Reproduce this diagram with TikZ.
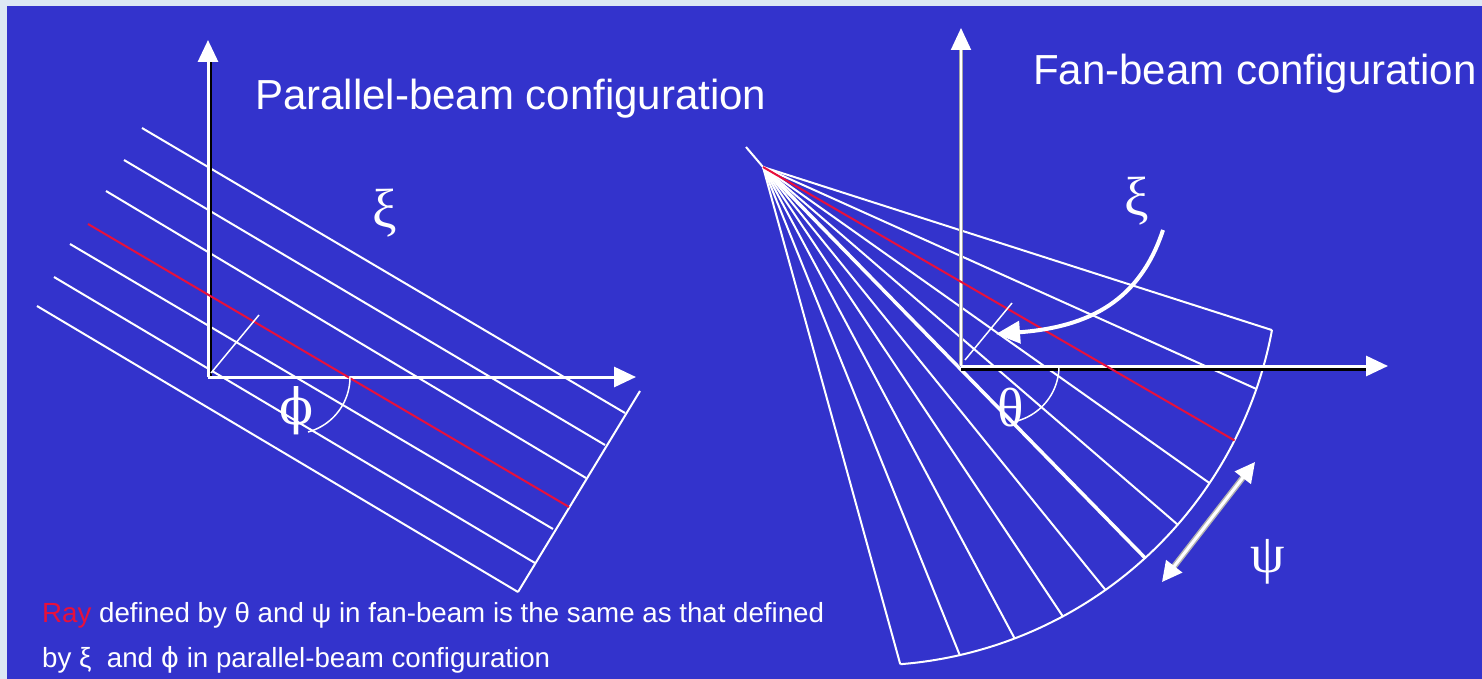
\documentclass[tikz,border=0pt]{standalone}
\usepackage{fontspec}
\setmainfont{Liberation Sans}
\newfontfamily\grk{Liberation Serif}
\newfontfamily\dvs{DejaVu Serif}
\newfontfamily\dvsans{DejaVu Sans}
\usetikzlibrary{arrows.meta,calc}
\definecolor{bg}{HTML}{3333CC}
\definecolor{pale}{HTML}{DDE8F4}
\definecolor{rayred}{HTML}{E8103C}
\begin{document}
\begin{tikzpicture}[x=1pt,y=-1pt,
  ray/.style={white,line width=2pt},
  redray/.style={rayred,line width=2pt},
  axisline/.style={white,line width=3pt},
  axshadow/.style={black,line width=2.5pt},
  tipped/.style={-{Triangle[length=22pt,width=20pt]}},
  greek/.style={white,font=\grk\fontsize{55}{55}\selectfont,inner sep=0pt},
  title/.style={white,font=\fontsize{42}{42}\selectfont,anchor=base west,inner sep=0pt},
  note/.style={white,font=\fontsize{27.7}{27.7}\selectfont,anchor=base west,inner sep=0pt}]
% background
\fill[pale] (0,0) rectangle (1482,679);
\fill[bg] (7,6) rectangle (1482,679);
\useasboundingbox (0,0) rectangle (1482,679);

% ---------------- parallel beam ----------------
\coordinate (O1) at (208,377);
\coordinate (Y1) at (208,40);
\coordinate (X1) at (636,377);
\coordinate (Y1s) at (211,377);
\coordinate (Y1t) at (211,60);
\coordinate (A1) at (142,128); \coordinate (B1) at (625,413);
\coordinate (A2) at (124,160); \coordinate (B2) at (605,445);
\coordinate (A3) at (106,191); \coordinate (B3) at (586,478);
\coordinate (AR) at (88,224);  \coordinate (BR) at (569,507);
\coordinate (A5) at (70,244);  \coordinate (B5) at (553,529);
\coordinate (A6) at (54,277);  \coordinate (B6) at (535,563);
\coordinate (A7) at (37,306);  \coordinate (B7) at (518,592);
\coordinate (D1) at (640,391); \coordinate (D2) at (518,592);
\coordinate (K1) at (211,373); \coordinate (K2) at (259,315);

\foreach \n in {1,2,3,5,6,7} \draw[ray] (A\n) -- (B\n);
\draw[ray] (D1) -- (D2);
\draw[axshadow] (Y1s) -- (Y1t);
\draw[axisline,tipped] (O1) -- (Y1);
\draw[axisline,tipped] (O1) -- (X1);
\draw[redray] (AR) -- (BR);
\draw[white,line width=1.5pt] (K1) -- (K2);
\draw[white,line width=1.5pt] plot[domain=0:74.7,samples=40] ({293+57*cos(\x)},{377+57*sin(\x)});
\node[greek,font=\dvs\fontsize{50}{50}\selectfont] (phi) at (297,411) {ϕ};
\node[greek] (xi1) at (385,213) {ξ};
\node[title] (t1) at (255,110) {Parallel-beam configuration};

% ---------------- fan beam ----------------
\coordinate (O2) at (961,366);
\coordinate (Y2) at (961,28);
\coordinate (X2) at (1388,366);
\coordinate (X2s) at (961,369.5);
\coordinate (X2t) at (1370,369.5);
\coordinate (S) at (763,167);
\coordinate (T) at (746,147);
\coordinate (C) at (868,254.5);
\foreach \n/\a in {1/10.6,2/19.1,3/26.9,4/33.8,5/41.1,6/47.6,7/54.7,8/61.7,9/69.1,10/77.1,11/85.5}
  \coordinate (P\n) at ($(C)+(\a:411)$);
\coordinate (K3) at (965,360); \coordinate (K4) at (1012,303);

\draw[ray] (S) -- (T);
\foreach \n in {1,2,4,5,7,8,9,10,11} \draw[ray] (S) -- (P\n);
\draw[white,line width=3.5pt] (S) -- (P6);
\draw[ray] plot[domain=10.6:85.5,samples=90] ({868+411*cos(\x)},{254.5+411*sin(\x)});
\draw[gray!70,line width=4pt] (O2) -- ($(Y2)+(0,20)$);
\draw[white,line width=2pt,tipped] (O2) -- (Y2);
\draw[axshadow] (X2s) -- (X2t);
\draw[axisline,tipped] (O2) -- (X2);
\draw[redray] (S) -- (P3);
\draw[white,line width=1.5pt] (K3) -- (K4);
\draw[white,line width=1.5pt] plot[domain=0:77,samples=40] ({1002+57*cos(\x)},{366+57*sin(\x)});

% xi curved arrow
\coordinate (xs) at (1163,230);
\coordinate (xe) at (996,334);
\draw[white,line width=4pt,-{Triangle[length=24pt,width=22pt]}] (xs) .. controls (1140,300) and (1090,327) .. (xe);

% psi double arrow
\coordinate (pa) at (1255,462);
\coordinate (pb) at (1162,582);
\draw[gray!60,line width=6pt,shorten <=14pt,shorten >=14pt] (pa) -- (pb);
\draw[white,{Triangle[length=20pt,width=20pt]}-{Triangle[length=20pt,width=20pt]},line width=3pt] (pa) -- (pb);

\node[greek] (xi2) at (1137,201) {ξ};
\node[greek] (theta) at (1011,408) {θ};
\node[greek] (psi) at (1268,562) {ψ};
\node[title] (t2) at (1033,85) {Fan-beam configuration};

% ---------------- caption ----------------
\node[note] (n1) at (42,622) {\textcolor{rayred}{Ray} defined by θ and ψ in fan-beam is the same as that defined};
\node[note] (n2) at (42,667) {by ξ\ \ and {\dvsans ϕ} in parallel-beam configuration};
\end{tikzpicture}
\end{document}
